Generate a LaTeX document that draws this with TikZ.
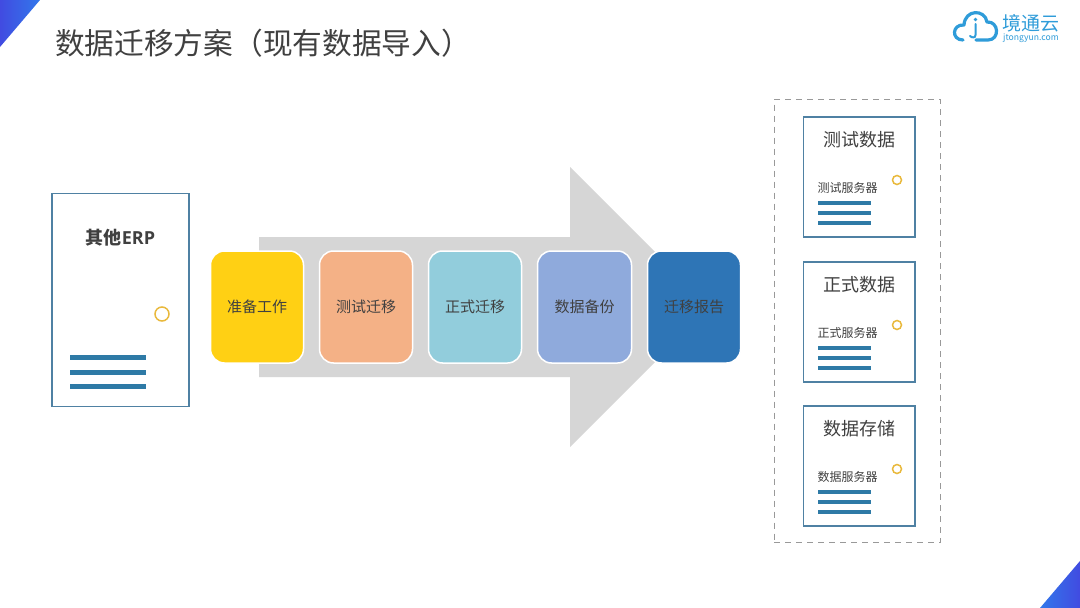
\documentclass[tikz,border=0pt]{standalone}
\usepackage{fontspec}
\setmainfont{Noto Sans CJK SC}
\newfontfamily\latinface{Open Sans}
\usetikzlibrary{shadings}
\definecolor{txt}{HTML}{404040}
\definecolor{barblue}{HTML}{2E7AA6}
\definecolor{frameblue}{HTML}{4F81A3}
\definecolor{ringgold}{HTML}{E9B93C}
\definecolor{logoblue}{HTML}{2F9CD9}
\definecolor{stepa}{RGB}{255,208,20}
\definecolor{stepb}{RGB}{244,177,134}
\definecolor{stepc}{RGB}{146,205,220}
\definecolor{stepd}{RGB}{143,170,220}
\definecolor{stepe}{RGB}{46,117,182}
\definecolor{cornera}{RGB}{65,75,225}
\definecolor{cornerb}{RGB}{50,120,235}
\tikzset{
  x=1pt,y=-1pt,
  stepbox/.style={draw=white,line width=1.5pt,rounded corners=14pt,inner sep=0pt,text=txt,font=\fontsize{15}{18}\selectfont},
  serverframe/.style={draw=frameblue,line width=1.8pt,fill=white},
  bar/.style={fill=barblue,draw=none},
  ring/.style={draw=ringgold,line width=1.5pt,fill=white},
  paneltitle/.style={text=txt,inner sep=0pt,font=\fontsize{18}{21}\selectfont},
  srvlabel/.style={text=txt,inner sep=0pt,font=\fontsize{12}{14}\selectfont},
}
\begin{document}
\begin{tikzpicture}
\useasboundingbox (0,0) rectangle (1080,608);
\fill[white] (0,0) rectangle (1080,608);
% corners
\begin{scope}
\clip (0,0) -- (40,0) -- (0,47) -- cycle;
\shade[left color=cornera,right color=cornerb] (0,0) rectangle (40,47);
\end{scope}
\begin{scope}
\clip (1080,561) -- (1080,608) -- (1040,608) -- cycle;
\shade[right color=cornera,left color=cornerb] (1040,561) rectangle (1080,608);
\end{scope}
% title
\node[anchor=west,inner sep=0pt,text=txt,font=\fontsize{29.7}{34}\selectfont] (title) at (55,43) {数据迁移方案（现有数据导入）};
% logo
\draw[logoblue,line width=3.2pt,line cap=round,line join=round]
  (963,40) .. controls (951,40) and (952,24) .. (964,25)
  .. controls (965,9) and (985,9) .. (987,22)
  .. controls (999,21) and (1000,40) .. (988,40) -- (976,40);
\fill[logoblue] (975.5,19.5) circle (1.8);
\draw[logoblue,line width=2pt,line cap=round] (975.5,24) -- (975.5,35) .. controls (975.5,38) and (972,38) .. (970,36);
\node[anchor=west,inner sep=0pt,text=logoblue,font=\fontsize{19}{22}\selectfont] (logotext) at (1002.5,23) {境通云};
\node[anchor=west,inner sep=0pt,text=logoblue,font=\fontsize{8.6}{10}\selectfont] (logosub) at (1003,38) {jtongyun.com};
% big arrow
\fill[black!16] (259,237) -- (570,237) -- (570,167) -- (710,307) -- (570,447) -- (570,377) -- (259,377) -- cycle;
% left server
\node[serverframe,minimum width=137pt,minimum height=213pt,inner sep=0pt,anchor=north west] (erp) at (51.1,192.6) {};
\node[text=txt,inner sep=0pt,font=\fontsize{18}{20}\selectfont\bfseries] (erplabel) at (120.5,238) {其他{\latinface\bfseries ERP}};
\draw[ring] (162,314) circle (7);
\fill[bar] (70,354.5) rectangle (146,359.5);
\fill[bar] (70,369.5) rectangle (146,374.5);
\fill[bar] (70,384) rectangle (146,389);
% steps
\node[stepbox,fill=stepa,minimum width=93pt,minimum height=112pt] (s1) at (257,307) {准备工作};
\node[stepbox,fill=stepb,minimum width=93pt,minimum height=112pt] (s2) at (366,307) {测试迁移};
\node[stepbox,fill=stepc,minimum width=93pt,minimum height=112pt] (s3) at (475,307) {正式迁移};
\node[stepbox,fill=stepd,minimum width=94pt,minimum height=112pt] (s4) at (584.5,307) {数据备份};
\node[stepbox,fill=stepe,minimum width=93pt,minimum height=112pt] (s5) at (694,307) {迁移报告};
% dashed group
\node[draw=black!40,dash pattern=on 6pt off 5pt,line width=1.2pt,minimum width=166pt,minimum height=443.5pt,inner sep=0pt,anchor=north west] (group) at (773.5,98.5) {};
% panels
\foreach \n/\y/\t/\s in {p1/117/测试数据/测试服务器,p2/262/正式数据/正式服务器,p3/406/数据存储/数据服务器}{
  \node[serverframe,minimum width=111.4pt,minimum height=120pt,inner sep=0pt,anchor=north west] (\n) at (802.6,\y-1.2) {};
  \node[paneltitle] (\n t) at (859,\y+23) {\t};
  \node[srvlabel,anchor=west] (\n s) at (817.5,\y+71) {\s};
  \draw[ring] (897,\y+63) circle (4.5);
  \fill[bar] (818,\y+84) rectangle (871,\y+88);
  \fill[bar] (818,\y+94) rectangle (871,\y+98);
  \fill[bar] (818,\y+104) rectangle (871,\y+108);
}
\end{tikzpicture}
\end{document}
